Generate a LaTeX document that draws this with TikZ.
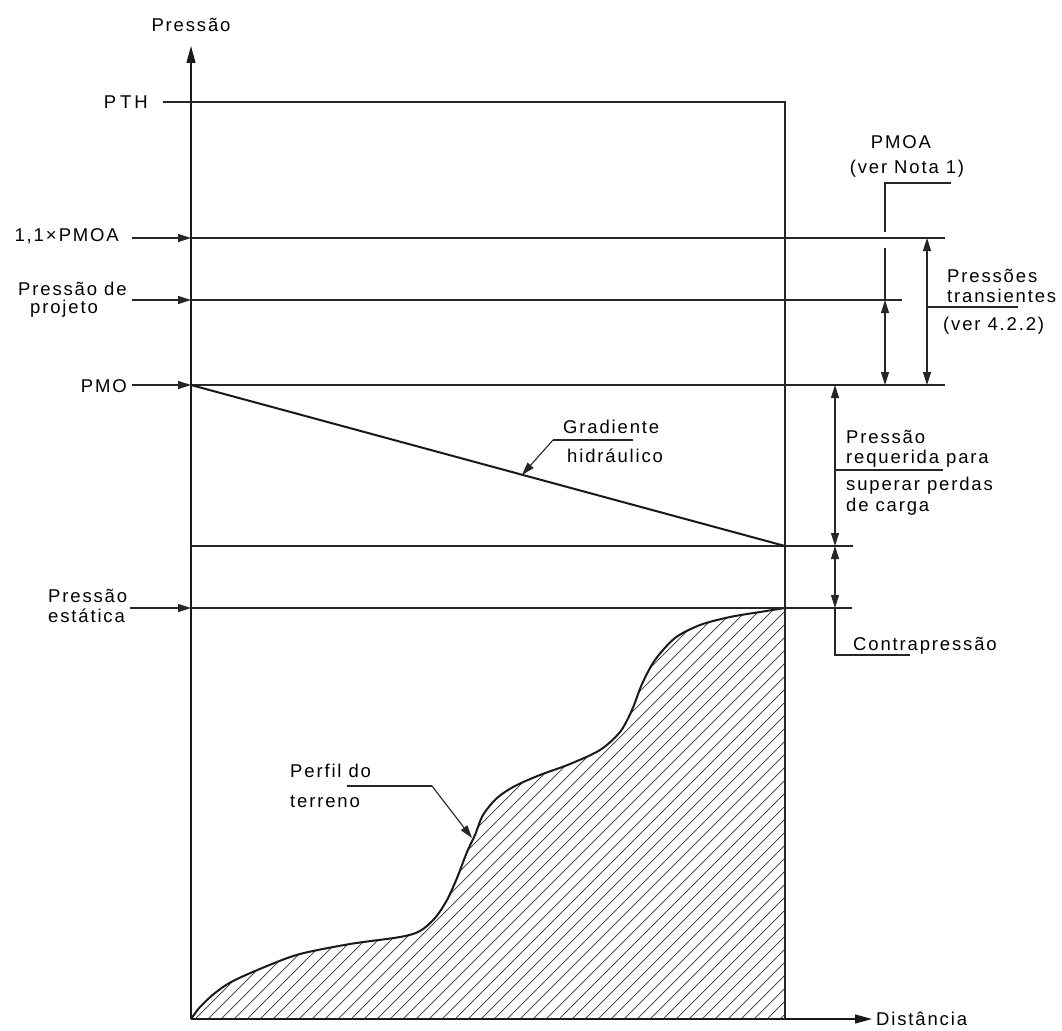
\documentclass[tikz,border=0pt]{standalone}
\usepackage{fontspec}
\newfontfamily\lbfont{Liberation Sans}[LetterSpace=10]
\usetikzlibrary{arrows.meta}
\begin{document}
\begin{tikzpicture}[x=1pt,y=-1pt,
  lbl/.style={font=\lbfont\fontsize{18.5}{21}\selectfont, inner sep=0pt},
  ln/.style={line width=1.1pt, draw=black!85},
  heavy/.style={line width=2pt, draw=black!90},
  axisline/.style={line width=1.3pt, draw=black!90},
  hatchline/.style={line width=0.7pt, draw=black!80},
  arr/.style={-{Triangle[length=13pt,width=8pt]}},
  bigarr/.style={-{Triangle[length=17pt,width=9pt]}},
  dim/.style={{Triangle[length=13pt,width=8pt]}-{Triangle[length=13pt,width=8pt]}}]
\useasboundingbox (0,0) rectangle (1062,1030);
% hatch
\begin{scope}
\clip plot[smooth] coordinates {(191,1019) (200,1007) (215,993) (233,981) (267,966) (300,954) (350,944) (400,937) (420,931) (435,918) (447,900) (457,878) (467,852) (475,835) (483,815) (497,798) (515,786) (540,775) (570,764) (600,750) (620,732) (632,710) (642,684) (655,660) (675,638) (700,625) (730,617) (760,612) (785,608)} -- (785,1019) -- cycle;
\foreach \hx in {-260,-247,...,790} \draw[hatchline] (\hx,1019) -- ++(520,-520);
\end{scope}
\draw[heavy] plot[smooth] coordinates {(191,1019) (200,1007) (215,993) (233,981) (267,966) (300,954) (350,944) (400,937) (420,931) (435,918) (447,900) (457,878) (467,852) (475,835) (483,815) (497,798) (515,786) (540,775) (570,764) (600,750) (620,732) (632,710) (642,684) (655,660) (675,638) (700,625) (730,617) (760,612) (785,608)};
% axes
\coordinate (O) at (191,1019);
\coordinate (Ytop) at (191,46);
\coordinate (Xend) at (872,1019);
\draw[axisline, bigarr] (O) -- (Ytop);
\draw[axisline, bigarr] (O) -- (Xend);
% horizontal levels
\draw[ln] (163,102) -- (785,102) -- (785,1019);
\draw[ln] (191,238) -- (945,238);
\draw[ln] (191,300) -- (902,300);
\draw[ln] (191,385) -- (945,385);
\draw[ln] (191,546) -- (853,546);
\draw[ln] (191,608) -- (852,608);
\draw[heavy] (191,385) -- (785,546);
% left labels
\node[lbl, anchor=base] (tPres) at (191,32) {Pressão};
\node[lbl, anchor=base east] (tPTH) at (148,109) {P\hspace{4pt}T\hspace{3pt}H};
\node[lbl, anchor=base east] (tPMOA) at (119,241) {1,1\hspace{2pt}×\hspace{2pt}PMOA};
\node[lbl, anchor=base west] (tProj1) at (18,295) {Pressão de};
\node[lbl, anchor=base west] (tProj2) at (30,313) {projeto};
\node[lbl, anchor=base east] (tPMO) at (127,392) {PMO};
\node[lbl, anchor=base west] (tEst1) at (48,602) {Pressão};
\node[lbl, anchor=base west] (tEst2) at (48,622) {estática};
\draw[ln, arr] (132,238) -- (191,238);
\draw[ln, arr] (132,300) -- (191,300);
\draw[ln, arr] (132,385) -- (191,385);
\draw[ln, arr] (130,608) -- (191,608);
% right dimensions
\draw[ln] (951,183) -- (885,183) -- (885,232);
\draw[ln] (885,248) -- (885,300);
\draw[ln, dim] (885,300) -- (885,385);
\draw[ln, dim] (927,238) -- (927,385);
\draw[ln] (927,307) -- (1018,307);
\draw[ln, dim] (835,385) -- (835,546);
\draw[ln] (835,470) -- (943,470);
\draw[ln, dim] (835,546) -- (835,608);
\draw[ln] (835,608) -- (835,655) -- (910,655);
% right labels
\node[lbl, anchor=base] (rPMOA) at (901,148) {PMOA};
\node[lbl, anchor=base] (rNota) at (907,173) {(ver Nota 1)};
\node[lbl, anchor=base west] (rTr1) at (947,282) {Pressões};
\node[lbl, anchor=base west] (rTr2) at (947,302) {transientes};
\node[lbl, anchor=base west] (rTr3) at (943,330) {(ver 4.2.2)};
\node[lbl, anchor=base west] (rReq1) at (846,443) {Pressão};
\node[lbl, anchor=base west] (rReq2) at (846,463) {requerida para};
\node[lbl, anchor=base west] (rReq3) at (846,490) {superar perdas};
\node[lbl, anchor=base west] (rReq4) at (846,511) {de carga};
\node[lbl, anchor=base west] (rCon) at (853,650) {Contrapressão};
% gradient label
\node[lbl, anchor=base west] (gGr1) at (563,433) {Gradiente};
\node[lbl, anchor=base west] (gGr2) at (567,462) {hidráulico};
\draw[ln] (633,440) -- (553,440);
\draw[ln, arr] (553,440) -- (522,475);
% terrain label
\node[lbl, anchor=base west] (pPer1) at (290,777) {Perfil do};
\node[lbl, anchor=base west] (pPer2) at (290,807) {terreno};
\draw[ln] (347,786) -- (432,786);
\draw[ln, arr] (432,786) -- (472,838);
% x label
\node[lbl, anchor=base west] (xDist) at (876,1025) {Distância};
\end{tikzpicture}
\end{document}
